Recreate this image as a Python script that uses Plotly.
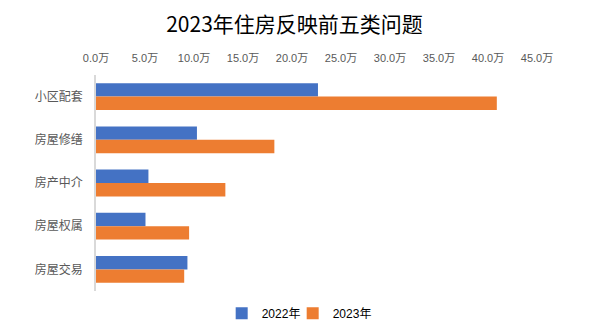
import plotly.graph_objects as go

# Top five housing complaint categories (unit: 万)
categories = ["小区配套", "房屋修缮", "房产中介", "房屋权属", "房屋交易"]
values_2022 = [22.65, 10.3, 5.35, 5.05, 9.33]
values_2023 = [40.9, 18.2, 13.2, 9.5, 9.0]
tick_values = [0, 5, 10, 15, 20, 25, 30, 35, 40, 45]
tick_labels = [f"{v:.1f}万" for v in tick_values]

FONT = "Liberation Sans, Noto Sans CJK SC, sans-serif"

fig = go.Figure()
fig.add_trace(go.Bar(
    y=categories, x=values_2022, name="2022年", orientation="h",
    marker=dict(color="#4472C4", line=dict(width=0)),
))
fig.add_trace(go.Bar(
    y=categories, x=values_2023, name="2023年", orientation="h",
    marker=dict(color="#ED7D31", line=dict(width=0)),
))
# blank legend slot so the last legend label is not clipped by the compact entry width
fig.add_trace(go.Scatter(
    x=[None], y=[None], mode="markers", name=" ",
    marker=dict(size=0, color="rgba(0,0,0,0)", line=dict(width=0)),
    hoverinfo="skip",
))

fig.update_layout(
    width=589, height=334,
    margin=dict(l=96, r=52, t=75, b=43, autoexpand=False),
    paper_bgcolor="white", plot_bgcolor="white",
    barmode="group", bargap=0.38, bargroupgap=0,
    font=dict(family=FONT, color="#595959"),
    title=dict(
        text="2023年住房反映前五类问题",
        x=0.5, xanchor="center", y=0.925, yanchor="middle",
        font=dict(family="Noto Sans CJK SC, sans-serif", size=21, color="#000000"),
    ),
    legend=dict(
        orientation="h", x=0.285, xanchor="left", y=-0.036, yanchor="top",
        font=dict(size=12, color="#000000"), traceorder="normal",
        itemwidth=30, tracegroupgap=0,
        entrywidth=26, entrywidthmode="pixels",
    ),
    xaxis=dict(
        side="top", range=[0, 45], tickvals=tick_values, ticktext=tick_labels,
        showgrid=False, zeroline=False, showline=False, ticks="",
        ticklabelstandoff=10,
        tickfont=dict(size=11, color="#595959"), fixedrange=True,
    ),
    yaxis=dict(
        autorange="reversed", showgrid=False, zeroline=False,
        showline=True, linecolor="#D9D9D9", linewidth=1.5, ticks="",
        ticklabelstandoff=9,
        tickfont=dict(size=12, color="#595959"), fixedrange=True,
    ),
)

fig.write_html("out.html")
